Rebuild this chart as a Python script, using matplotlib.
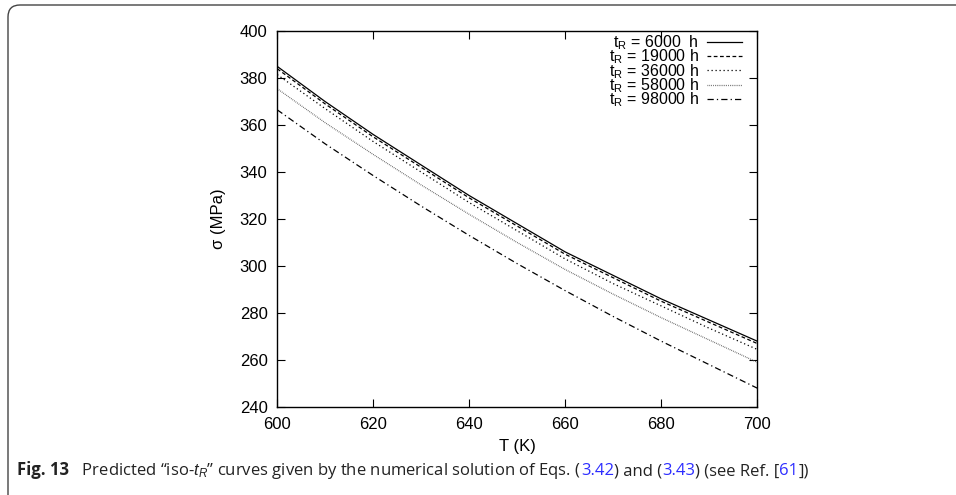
import matplotlib
matplotlib.use("Agg")
import matplotlib.pyplot as plt
from matplotlib.patches import FancyBboxPatch
from matplotlib.transforms import IdentityTransform

plt.rcParams["font.family"] = ["Liberation Sans", "DejaVu Sans"]
plt.rcParams["mathtext.fontset"] = "custom"
plt.rcParams["mathtext.rm"] = "Liberation Sans"
plt.rcParams["mathtext.it"] = "Liberation Sans:italic"

# temperature grid (K) and read-off stress values (MPa)
T = [600, 610, 620, 630, 640, 650, 660, 670, 680, 690, 700]
s_6000 = [385, 370, 356, 343, 330, 318, 306, 296, 286, 277, 268]
s_19000 = [384, 369, 355, 342, 329, 317, 305, 295, 285, 276, 267]
s_36000 = [381.5, 367, 353, 340, 327, 315, 303, 292.5, 283, 273.5, 264.5]
s_58000 = [375.5, 361, 347.5, 334.5, 322, 310, 298.5, 288, 278, 268.5, 259]
s_98000 = [366.5, 352, 338.5, 325.5, 313, 301, 289.5, 278.5, 268, 258, 248]
labels = ["6000  h", "19000 h", "36000 h", "58000 h", "98000 h"]

series = [s_6000, s_19000, s_36000, s_58000, s_98000]
styles = [("-", "black"), ((0, (3, 2)), "black"), ((0, (1, 2.2)), "black"),
          ((0, (0.6, 0.9)), "#555555"), ((0, (5, 2.5, 1, 2.5)), "black")]

fig = plt.figure(figsize=(9.56, 4.95), dpi=100)
ax = fig.add_axes([0.290, 0.178, 0.502, 0.759])

for s, lab, (ls, c) in zip(series, labels, styles):
    ax.plot(T, s, linestyle=ls, color=c, linewidth=0.9,
            label=r"t$_\mathrm{R}$ = " + lab)

ax.set_xlim(600, 700)
ax.set_ylim(240, 400)
ax.set_xticks(range(600, 701, 20))
ax.set_yticks(range(240, 401, 20))
ax.tick_params(direction="in", top=True, right=True, length=6, width=0.8,
               labelsize=12, pad=7)
for sp in ax.spines.values():
    sp.set_linewidth(1.0)
ax.set_xlabel("T (K)", fontsize=12, labelpad=5)
ax.set_ylabel("\u03c3 (MPa)", fontsize=12, labelpad=10)

ax.legend(loc="upper right", bbox_to_anchor=(0.985, 1.015), frameon=False,
          markerfirst=False, fontsize=11.5, handlelength=2.2,
          handletextpad=0.5, labelspacing=-0.28, borderaxespad=0.1)

# rounded panel frame
frame = FancyBboxPatch((8, -20), 980, 510, boxstyle="round,pad=0,rounding_size=12",
                       transform=IdentityTransform(), fill=False,
                       edgecolor="#444444", linewidth=1.0)
fig.patches.append(frame)

# caption, written piece by piece
pieces = [("Fig. 13", "bold", "#222222"),
          ("   Predicted \u201ciso-$t_R$\u201d curves given by the numerical solution of Eqs. (", "normal", "#222222"),
          ("3.42", "normal", "#2d2dff"),
          (") and (", "normal", "#222222"),
          ("3.43", "normal", "#2d2dff"),
          (") (see Ref. [", "normal", "#222222"),
          ("61", "normal", "#2d2dff"),
          ("])", "normal", "#222222")]
renderer = fig.canvas.get_renderer()
x = 17
for txt, w, c in pieces:
    t = fig.text(x, 20, txt, fontsize=12, fontweight=w, color=c,
                 family=["Open Sans", "DejaVu Sans"], va="baseline",
                 transform=IdentityTransform())
    x = t.get_window_extent(renderer).x1

fig.savefig("out.png", dpi=100)
